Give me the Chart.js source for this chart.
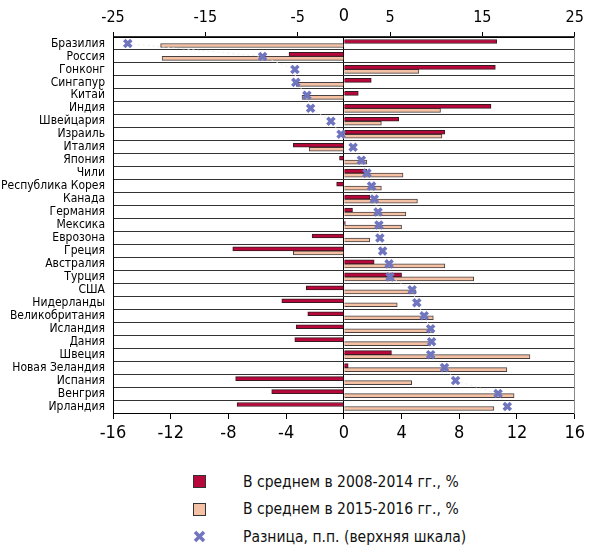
<!DOCTYPE html>
<html>
<head>
<meta charset="utf-8">
<script src="https://cdn.jsdelivr.net/npm/chart.js@4/dist/chart.umd.min.js"></script>
<style>
    body { margin: 0; background: #fff; }
    #wrap { position: relative; width: 589px; height: 552px; }
    #chartBox { position: absolute; left: 0; top: 0; width: 589px; height: 452px; }
    #legend { position: absolute; left: 193px; top: 468px; font-family: "Liberation Sans Narrow", "DejaVu Sans Condensed", sans-serif; font-size: 15.5px; color: #111; }
    .item { display: flex; align-items: center; height: 27.5px; }
    .box { width: 11px; height: 11px; border: 1px solid #333; margin-right: 37px; }
    .cross { width: 13px; height: 13px; margin-right: 37px; }
</style>
</head>
<body>
<div id="wrap">
    <div id="chartBox"><canvas id="diffChart"></canvas></div>
    <div id="legend"></div>
</div>
<script>
const countries = ["Бразилия", "Россия", "Гонконг", "Сингапур", "Китай", "Индия", "Швейцария", "Израиль",
    "Италия", "Япония", "Чили", "Республика Корея", "Канада", "Германия", "Мексика", "Еврозона", "Греция",
    "Австралия", "Турция", "США", "Нидерланды", "Великобритания", "Исландия", "Дания", "Швеция",
    "Новая Зеландия", "Испания", "Венгрия", "Ирландия"];

// В среднем в 2008-2014 гг., %
const avg2008 = [10.6, -3.8, 10.5, 1.9, 1.0, 10.2, 3.8, 7.0, -3.5, -0.3, 1.6, -0.5, 1.8, 0.6, 0.1, -2.2,
    -7.7, 2.1, 4.0, -2.6, -4.3, -2.5, -3.3, -3.4, 3.3, 0.3, -7.5, -5.0, -7.4];

// В среднем в 2015-2016 гг., %
const avg2015 = [-12.7, -12.6, 5.2, -3.3, -2.9, 6.7, 2.6, 6.8, -2.4, 1.6, 4.1, 2.6, 5.1, 4.3, 4.0, 1.8,
    -3.5, 7.0, 9.0, 5.0, 3.7, 6.2, 6.2, 6.0, 12.9, 11.3, 4.7, 11.8, 10.4];

// Разница, п.п. (верхняя шкала)
const diff = [-23.4, -8.8, -5.3, -5.2, -4.0, -3.6, -1.4, -0.3, 1.0, 1.9, 2.5, 3.0, 3.3, 3.7, 3.8, 3.9,
    4.2, 4.9, 5.0, 7.4, 7.9, 8.7, 9.4, 9.5, 9.4, 10.9, 12.1, 16.7, 17.7];

const bottomTicks = [-16, -12, -8, -4, 0, 4, 8, 12, 16];
const topTicks = [-25, -15, -5, 0, 5, 15, 25];

const seriesNames = ["В среднем в 2008-2014 гг., %", "В среднем в 2015-2016 гг., %", "Разница, п.п. (верхняя шкала)"];

const RED = "#b8073b";
const PEACH = "#f4c1a5";
const BLUE = "#7075c0";
const narrow = "'Liberation Sans Narrow', 'DejaVu Sans Condensed', sans-serif";

new Chart(document.getElementById("diffChart"), {
    type: "bar",
    data: {
        labels: countries,
        datasets: [
            {
                type: "line",
                label: seriesNames[2],
                data: diff,
                xAxisID: "x2",
                yAxisID: "y",
                borderColor: "rgba(230,230,230,0.8)",
                borderWidth: 1,
                borderDash: [2, 3],
                pointStyle: "crossRot",
                pointRadius: 5,
                pointBorderWidth: 3.5,
                pointBorderColor: BLUE,
                pointBackgroundColor: BLUE,
                order: 0
            },
            {
                label: seriesNames[0],
                data: avg2008,
                xAxisID: "x",
                backgroundColor: RED,
                borderColor: "#3a1a20",
                borderWidth: 1,
                barThickness: 4,
                order: 1
            },
            {
                label: seriesNames[1],
                data: avg2015,
                xAxisID: "x",
                backgroundColor: PEACH,
                borderColor: "#4a4040",
                borderWidth: 1,
                barThickness: 4,
                order: 1
            }
        ]
    },
    options: {
        indexAxis: "y",
        responsive: true,
        maintainAspectRatio: false,
        animation: false,
        layout: { padding: { left: 0, right: 10, top: 0, bottom: 0 } },
        plugins: {
            legend: { display: false },
            tooltip: { enabled: false }
        },
        scales: {
            x: {
                position: "bottom",
                min: -16,
                max: 16,
                afterBuildTicks: (s) => { s.ticks = bottomTicks.map(v => ({ value: v })); },
                afterFit: (s) => { s.height = 39; },
                border: { color: "#000", width: 1 },
                grid: {
                    color: (c) => (c.tick && c.tick.value === 0 ? "#000" : "transparent"),
                    tickColor: "#000",
                    tickLength: 6,
                    lineWidth: 1
                },
                ticks: {
                    color: "#000",
                    padding: 4,
                    font: { family: narrow, size: 18 }
                }
            },
            x2: {
                position: "top",
                min: -25,
                max: 25,
                afterBuildTicks: (s) => { s.ticks = topTicks.map(v => ({ value: v })); },
                afterFit: (s) => { s.height = 37; },
                border: { color: "#000", width: 1 },
                grid: {
                    drawOnChartArea: false,
                    tickColor: (c) => (c.tick && c.tick.value === 0 ? "transparent" : "#000"),
                    tickLength: 5
                },
                ticks: {
                    color: "#000",
                    padding: 5,
                    font: (c) => ({ family: narrow, size: c.tick && c.tick.value === 0 ? 18 : 16 })
                }
            },
            y: {
                position: "left",
                afterFit: (s) => { s.width = 113; },
                border: { color: "#000", width: 1 },
                grid: {
                    color: "#333",
                    lineWidth: 1,
                    drawTicks: false
                },
                ticks: {
                    color: "#000",
                    padding: 8,
                    autoSkip: false,
                    font: { family: narrow, size: 12 }
                }
            },
            yr: {
                position: "right",
                type: "category",
                afterFit: (s) => { s.width = 0; },
                border: { color: "#888", width: 1 },
                grid: { display: false },
                ticks: { display: false }
            }
        }
    }
});

// legend, stacked one per row as in the source
const legend = document.getElementById("legend");
const markers = [
    `<div class="box" style="background:${RED}"></div>`,
    `<div class="box" style="background:${PEACH}"></div>`,
    `<svg class="cross" viewBox="0 0 13 13"><path d="M2 2 L11 11 M11 2 L2 11" stroke="${BLUE}" stroke-width="3.5"/></svg>`
];
seriesNames.forEach((name, i) => {
    const row = document.createElement("div");
    row.className = "item";
    row.innerHTML = markers[i] + `<span>${name}</span>`;
    legend.appendChild(row);
});
</script>
</body>
</html>
